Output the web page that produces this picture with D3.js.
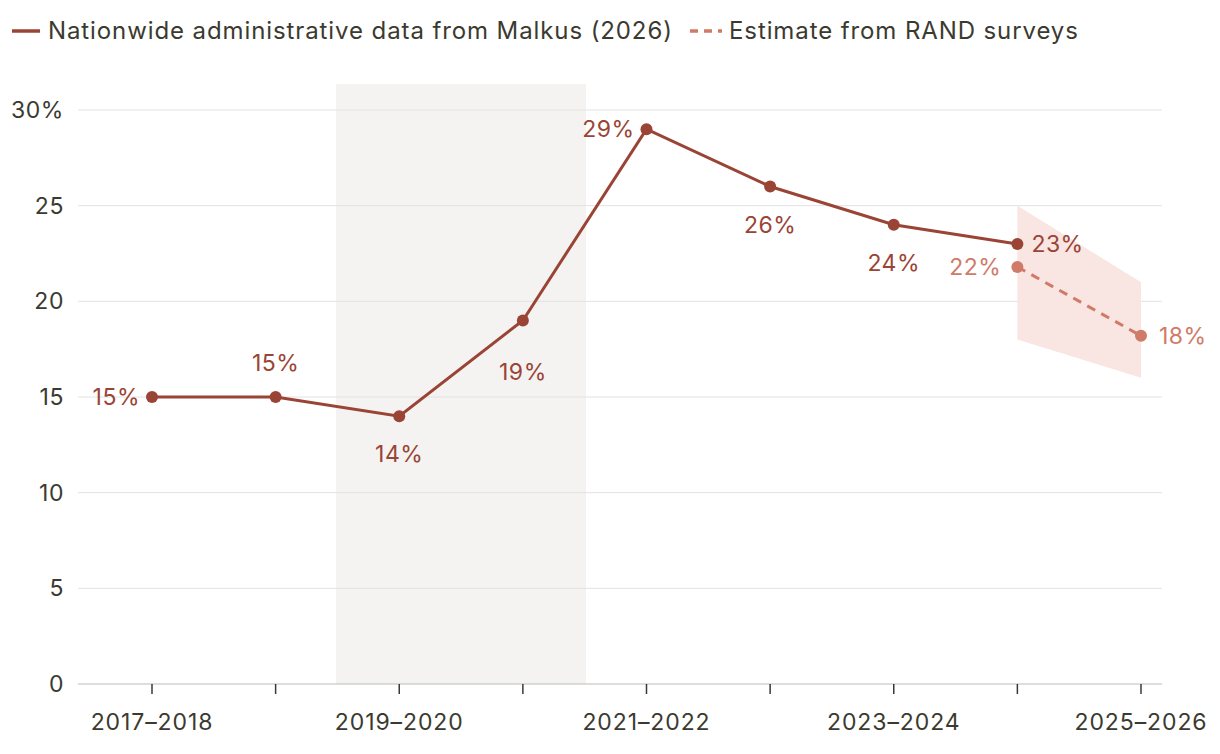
<!DOCTYPE html>
<html><head><meta charset="utf-8">
<script src="https://cdn.jsdelivr.net/npm/d3@7"></script>
<style>body{margin:0;background:#fff;font-family:Inter,"Noto Sans",sans-serif;}</style>
</head><body><svg id="c" width="1220" height="754"></svg>
<script>
// Datos
const years = ['2017–2018','2018–2019','2019–2020','2020–2021','2021–2022','2022–2023','2023–2024','2024–2025','2025–2026'];
const admin = [15, 15, 14, 19, 29, 26, 24, 23];
const estYears = ['2024–2025','2025–2026'];
const estimate = [21.8, 18.2];
const estLow = [18, 16];
const estHigh = [25, 21];
const labelPos = ['left','above','below','below2','left','below','below','right'];
const yTicks = [0, 5, 10, 15, 20, 25, 30];

const dark = '#9a4436', light = '#d07a68', ink = '#3b3a30';
const svg = d3.select('#c');
const x = d3.scalePoint().domain(years).range([152, 1141]);
const y = d3.scaleLinear().domain([0, 30]).range([684, 110]);

// Banda sombreada 2019-2021
svg.append('rect').attr('x', 336).attr('y', 84).attr('width', 250).attr('height', 600).attr('fill', '#f4f3f1');

// Grilla
svg.selectAll('.g').data(yTicks).enter().append('line')
  .attr('x1', 78).attr('x2', 1162).attr('y1', d => y(d)).attr('y2', d => y(d))
  .attr('stroke', d => d === 0 ? '#bbb' : '#e2e2e2').attr('stroke-width', 1);
svg.selectAll('.yt').data(yTicks).enter().append('text')
  .attr('x', 64).attr('y', d => y(d) + 8).attr('text-anchor', 'end')
  .attr('font-size', 23).attr('letter-spacing', 0.6).attr('fill', ink).text(d => d === 30 ? '30%' : d);

// Ticks eje x
svg.selectAll('.xt').data(years).enter().append('line')
  .attr('x1', d => x(d)).attr('x2', d => x(d)).attr('y1', 684).attr('y2', 694)
  .attr('stroke', ink).attr('stroke-width', 1.5);
svg.selectAll('.xl').data(years.filter((d, i) => i % 2 === 0)).enter().append('text')
  .attr('x', d => x(d)).attr('y', 730).attr('text-anchor', 'middle')
  .attr('font-size', 23).attr('letter-spacing', 0.9).attr('fill', ink).text(d => d);

// Banda de estimación
const area = d3.area().x((d, i) => x(estYears[i])).y0((d, i) => y(estLow[i])).y1(d => y(d));
svg.append('path').datum(estHigh).attr('d', area).attr('fill', '#f9e5e2');

// Estimación
const lineE = d3.line().x((d, i) => x(estYears[i])).y(d => y(d));
svg.append('path').datum(estimate).attr('d', lineE).attr('fill', 'none')
  .attr('stroke', light).attr('stroke-width', 3).attr('stroke-dasharray', '9,7');
svg.selectAll('.ep').data(estimate).enter().append('circle')
  .attr('cx', (d, i) => x(estYears[i])).attr('cy', d => y(d)).attr('r', 6).attr('fill', light);

// Línea principal
const line = d3.line().x((d, i) => x(years[i])).y(d => y(d));
svg.append('path').datum(admin).attr('d', line).attr('fill', 'none')
  .attr('stroke', dark).attr('stroke-width', 3);
svg.selectAll('.ap').data(admin).enter().append('circle')
  .attr('cx', (d, i) => x(years[i])).attr('cy', d => y(d)).attr('r', 6).attr('fill', dark);

// Etiquetas
admin.forEach((v, i) => {
  const p = labelPos[i];
  let dx = 0, dy = 0, anchor = 'middle';
  if (p === 'left') { dx = -12; dy = 8; anchor = 'end'; }
  if (p === 'right') { dx = 14; dy = 8; anchor = 'start'; }
  if (p === 'above') { dy = -26; }
  if (p === 'below') { dy = 46; }
  if (p === 'below2') { dy = 60; }
  svg.append('text').attr('x', x(years[i]) + dx).attr('y', y(v) + dy)
    .attr('text-anchor', anchor).attr('font-size', 23).attr('letter-spacing', 0.5).attr('fill', dark).text(v + '%');
});
svg.append('text').attr('x', x(estYears[0]) - 16).attr('y', y(estimate[0]) + 8)
  .attr('text-anchor', 'end').attr('font-size', 23).attr('letter-spacing', 0.5).attr('fill', light).text('22%');
svg.append('text').attr('x', x(estYears[1]) + 18).attr('y', y(estimate[1]) + 8)
  .attr('text-anchor', 'start').attr('font-size', 23).attr('letter-spacing', 0.5).attr('fill', light).text('18%');

// Leyenda
svg.append('line').attr('x1', 12).attr('x2', 40).attr('y1', 31).attr('y2', 31).attr('stroke', dark).attr('stroke-width', 3.5);
svg.append('text').attr('x', 48).attr('y', 39).attr('font-size', 24).attr('letter-spacing', 0.9).attr('fill', ink)
  .text('Nationwide administrative data from Malkus (2026)');
svg.append('line').attr('x1', 690).attr('x2', 722).attr('y1', 31).attr('y2', 31).attr('stroke', light)
  .attr('stroke-width', 3.5).attr('stroke-dasharray', '8,6');
svg.append('text').attr('x', 729).attr('y', 39).attr('font-size', 24).attr('letter-spacing', 0.9).attr('fill', ink)
  .text('Estimate from RAND surveys');
</script></body></html>
